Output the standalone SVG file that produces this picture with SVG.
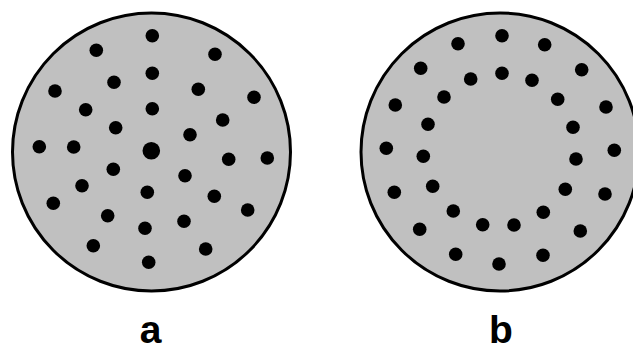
<svg xmlns="http://www.w3.org/2000/svg" width="633" height="352" viewBox="0 0 633 352">
<style>
.disc{fill:#c0c0c0;stroke:#000;stroke-width:3}
.d{fill:#000}
.lbl{font-family:"Liberation Sans",Arial,sans-serif;font-weight:bold;font-size:39px;fill:#000;text-anchor:middle}
</style>
<rect width="633" height="352" fill="#fff"/>
<g id="a">
<circle class="disc" cx="151.5" cy="152" r="139"/>
<g class="d">
<circle cx="152.3" cy="35.7" r="6.8"/>
<circle cx="96.3" cy="50.3" r="6.8"/>
<circle cx="215" cy="54.3" r="6.8"/>
<circle cx="152.3" cy="73.3" r="6.8"/>
<circle cx="114" cy="82.3" r="6.8"/>
<circle cx="55" cy="91" r="6.8"/>
<circle cx="198.3" cy="89.3" r="6.8"/>
<circle cx="254" cy="97.3" r="6.8"/>
<circle cx="85.7" cy="109.7" r="6.8"/>
<circle cx="152.3" cy="108.7" r="6.8"/>
<circle cx="222.7" cy="120" r="6.8"/>
<circle cx="115.7" cy="127.7" r="6.8"/>
<circle cx="190" cy="134.7" r="6.8"/>
<circle cx="39.3" cy="146.7" r="6.8"/>
<circle cx="73.7" cy="147" r="6.8"/>
<circle cx="151.3" cy="150.7" r="8.8"/>
<circle cx="228.7" cy="159.3" r="6.8"/>
<circle cx="267.3" cy="158" r="6.8"/>
<circle cx="113.3" cy="169.3" r="6.8"/>
<circle cx="185" cy="175.7" r="6.8"/>
<circle cx="82" cy="185.7" r="6.8"/>
<circle cx="147.3" cy="192.3" r="6.8"/>
<circle cx="214.3" cy="196.3" r="6.8"/>
<circle cx="53.3" cy="203.3" r="6.8"/>
<circle cx="247.7" cy="210" r="6.8"/>
<circle cx="107.7" cy="215.7" r="6.8"/>
<circle cx="184" cy="221.3" r="6.8"/>
<circle cx="145" cy="228.3" r="6.8"/>
<circle cx="93.3" cy="245.7" r="6.8"/>
<circle cx="205.7" cy="249" r="6.8"/>
<circle cx="148.7" cy="262.3" r="6.8"/>
</g>
<text class="lbl" x="150.5" y="343">a</text>
</g>
<g id="b">
<circle class="disc" cx="500" cy="152" r="139"/>
<g class="d">
<circle cx="502" cy="35.7" r="6.8"/>
<circle cx="458" cy="43.7" r="6.8"/>
<circle cx="544.7" cy="44.7" r="6.8"/>
<circle cx="420.7" cy="68.3" r="6.8"/>
<circle cx="581.7" cy="69.7" r="6.8"/>
<circle cx="502" cy="73.3" r="6.8"/>
<circle cx="470.7" cy="79" r="6.8"/>
<circle cx="532" cy="80.3" r="6.8"/>
<circle cx="444" cy="97" r="6.8"/>
<circle cx="557.7" cy="99.3" r="6.8"/>
<circle cx="395.3" cy="105" r="6.8"/>
<circle cx="606" cy="107" r="6.8"/>
<circle cx="428" cy="124.3" r="6.8"/>
<circle cx="573" cy="127.3" r="6.8"/>
<circle cx="386.3" cy="148.3" r="6.8"/>
<circle cx="614.3" cy="150.3" r="6.8"/>
<circle cx="423.3" cy="156.3" r="6.8"/>
<circle cx="576" cy="159" r="6.8"/>
<circle cx="432.7" cy="186.3" r="6.8"/>
<circle cx="565.3" cy="189.3" r="6.8"/>
<circle cx="394.3" cy="192.3" r="6.8"/>
<circle cx="605" cy="194" r="6.8"/>
<circle cx="453.3" cy="211" r="6.8"/>
<circle cx="543.3" cy="212.3" r="6.8"/>
<circle cx="482.7" cy="224.7" r="6.8"/>
<circle cx="514" cy="225" r="6.8"/>
<circle cx="419.7" cy="229.3" r="6.8"/>
<circle cx="580.3" cy="231" r="6.8"/>
<circle cx="455.7" cy="254.3" r="6.8"/>
<circle cx="543" cy="255.3" r="6.8"/>
<circle cx="499" cy="264" r="6.8"/>
</g>
<text class="lbl" x="501" y="343">b</text>
</g>
</svg>
